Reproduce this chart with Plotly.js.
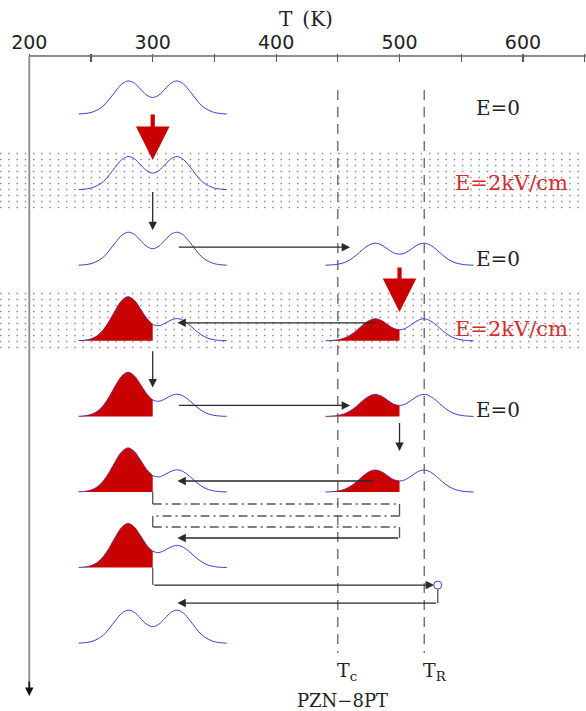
<!DOCTYPE html>
<html><head><meta charset="utf-8">
<script src="https://cdn.plot.ly/plotly-3.0.1.min.js"></script>
<style>html,body{margin:0;padding:0;background:#fff}</style>
</head><body>
<div id="chart" style="width:586px;height:711px"></div>
<script>
// ---------------- data ----------------
const TICK_LABELS = [200, 300, 400, 500, 600];
// temperature grids (K) of the two peaks
const T_LOW  = [240,245,250,255,260,265,270,275,280,285,290,295,300,305,310,315,320,325,330,335,340,345,350,355,360];
const T_HIGH = [440,445,450,455,460,465,470,475,480,485,490,495,500,505,510,515,520,525,530,535,540,545,550,555,560];
// relative intensity profiles
const UNPOLED_LOW  = [0,0.5,1.5,4,8,15,23,30,33,31,25,19,16.5,19,25,31,33,30,23,15,8,4,1.5,0.5,0];
const UNPOLED_HIGH = [0,0.3,1,2.5,5.5,10,15.5,20,22,20.5,16.5,12.5,11,12.5,16.5,20.5,22,20,15.5,10,5.5,2.5,1,0.3,0];
const POLED_LOW    = [0.2,0.6,1.9,5,11,20.2,31.1,40.3,44.1,40.6,32.1,22.7,16.5,15.1,17.5,20.8,22.2,20.2,15.6,10.1,5.5,2.5,1,0.3,0.1];
// characteristic temperatures
const TC = 450, TR = 520;
const T_CUT_LOW = 300, T_CUT_HIGH = 500;      // where the poled (red) part ends
const T_SIDE_LOW = 320, T_SIDE_HIGH = 460, T_PEAK_HIGH = 480, T_RING = 531;
// row contents: which profile on the low / high temperature side
const ROWS = [
  {low:'unpoled'},
  {low:'unpoled'},
  {low:'unpoled', high:'unpoled'},
  {low:'poled', high:'poled'},
  {low:'poled', high:'poled'},
  {low:'poled', high:'poled'},
  {low:'poled'},
  {low:'unpoled'}
];
const FIELD_LABELS = ['E=0', 'E=2kV/cm', 'E=0', 'E=2kV/cm', 'E=0'];

// ---------------- layout geometry ----------------
const W = 586, H = 711, TOP = 54;
const X_MIN = 176.26, X_MAX = 651.1;
const pxT = px => X_MIN + px * (X_MAX - X_MIN) / W;
const ROW0 = 114, ROW_STEP = 75.6;
const base = i => ROW0 + ROW_STEP * i;
const BLUE = 'rgb(60,60,220)', RED = 'rgb(200,0,0)', REDTXT = 'rgb(210,45,45)';

const traces = [];
// dotted field bands
const dx = [], dy = [];
for (const top of [153.5, 293.5]) {
  for (let r = 0; r < 10; r++) {
    for (let c = 0; 0.7 + c * 8.25 < W; c++) { dx.push(pxT(0.7 + c * 8.25)); dy.push(top + r * 6); }
  }
}
traces.push({type:'scatter', mode:'markers', x:dx, y:dy, hoverinfo:'skip',
  marker:{symbol:'square', size:1.5, color:'#8c8c8c', line:{width:0}}, cliponaxis:false});

function addPeak(Ts, prof, b, poled, cut) {
  traces.push({type:'scatter', mode:'lines', x:Ts, y:prof.map(v => b - v), hoverinfo:'skip',
    line:{color:BLUE, width:1, shape:'spline', smoothing:1}});
  if (poled) {
    const xs = [], ys = [];
    Ts.forEach((t, k) => { if (t <= cut) { xs.push(t); ys.push(b - prof[k]); } });
    traces.push({type:'scatter', mode:'lines', x:[xs[0], cut], y:[b, b], hoverinfo:'skip',
      line:{width:0, color:RED}});
    traces.push({type:'scatter', mode:'lines', x:xs, y:ys, fill:'tonexty', fillcolor:RED, hoverinfo:'skip',
      line:{width:0, color:RED, shape:'spline', smoothing:1}});
  }
}
ROWS.forEach((r, i) => {
  const b = base(i);
  if (r.low) addPeak(T_LOW, r.low === 'poled' ? POLED_LOW : UNPOLED_LOW, b, r.low === 'poled', T_CUT_LOW);
  if (r.high) addPeak(T_HIGH, UNPOLED_HIGH, b, r.high === 'poled', T_CUT_HIGH);
});
// small ring at the end of the heating path
traces.push({type:'scatter', mode:'markers', x:[T_RING], y:[base(6) + 17.5], hoverinfo:'skip',
  marker:{symbol:'circle-open', size:8, color:BLUE, line:{width:1, color:BLUE}}});

// ---------------- shapes ----------------
const shapes = [];
// frame: top axis line and left (time) axis
shapes.push({type:'line', xref:'x', yref:'y', x0:200, x1:X_MAX, y0:56, y1:56, line:{color:'#666', width:1.6}, layer:'above'});
shapes.push({type:'line', xref:'x', yref:'y', x0:200, x1:200, y0:56, y1:690, line:{color:'#8a8a8a', width:1.8}, layer:'above'});
// Tc and TR
[TC, TR].forEach(t => shapes.push({type:'line', xref:'x', yref:'y', x0:t, x1:t, y0:90, y1:653,
  line:{color:'#555', width:1.2, dash:'10px,7px'}, layer:'above'}));
// connectors
const CON = '#555';
const solid = (x0, y0, x1, y1) => shapes.push({type:'line', xref:'x', yref:'y', x0, x1, y0, y1, line:{color:CON, width:1.3}, layer:'above'});
const dashdot = (x0, y0, x1, y1) => shapes.push({type:'line', xref:'x', yref:'y', x0, x1, y0, y1, line:{color:CON, width:1.3, dash:'9px,4px,2px,4px'}, layer:'above'});
const b5 = base(5), b6 = base(6);
solid(T_CUT_LOW, b5, T_CUT_LOW, b5 + 12);
dashdot(T_CUT_LOW, b5 + 12, T_CUT_HIGH, b5 + 12);
solid(T_CUT_HIGH, b5 + 12, T_CUT_HIGH, b5 + 24);
dashdot(T_CUT_HIGH, b5 + 24, T_CUT_LOW, b5 + 24);
solid(T_CUT_LOW, b5 + 24, T_CUT_LOW, b5 + 35);
dashdot(T_CUT_LOW, b5 + 35, T_CUT_HIGH, b5 + 35);
solid(T_CUT_HIGH, b5 + 35, T_CUT_HIGH, b5 + 46);
solid(T_CUT_LOW, b6, T_CUT_LOW, b6 + 17.5);
solid(T_RING, b6 + 21.5, T_RING, b6 + 35.5);

// ---------------- annotations ----------------
const ann = [];
const arrow = (x0, y0, x1, y1, o) => ann.push(Object.assign({x:x1, y:y1, ax:x0, ay:y0, xref:'x', yref:'y', axref:'x', ayref:'y',
  text:'', showarrow:true, arrowhead:2, arrowsize:1.3, arrowwidth:1.3, arrowcolor:'#2a2a2a', standoff:0, startstandoff:0}, o || {}));
// red field-on arrows
arrow(T_CUT_LOW, 113, T_CUT_LOW, 160, {arrowcolor:RED, arrowwidth:4.2, arrowsize:1.6});
arrow(T_CUT_HIGH, 266, T_CUT_HIGH, 312, {arrowcolor:RED, arrowwidth:4.2, arrowsize:1.6});
// black process arrows
arrow(T_CUT_LOW, base(1) + 1, T_CUT_LOW, base(2) - 35);
arrow(T_SIDE_LOW, base(2) - 18, T_SIDE_HIGH, base(2) - 18);
arrow(T_PEAK_HIGH + 2, base(3) - 18, T_SIDE_LOW, base(3) - 18);
arrow(T_CUT_LOW, base(3) + 9, T_CUT_LOW, base(4) - 29);
arrow(T_SIDE_LOW, base(4) - 11, T_SIDE_HIGH, base(4) - 11);
arrow(T_CUT_HIGH, base(4) + 5, T_CUT_HIGH, base(5) - 41);
arrow(T_PEAK_HIGH, base(5) - 11, T_SIDE_LOW, base(5) - 11);
arrow(T_CUT_HIGH, b5 + 46, T_SIDE_LOW, b5 + 46);
arrow(T_CUT_LOW, b6 + 17.5, T_RING - 3, b6 + 17.5);
arrow(T_RING, b6 + 35.5, T_SIDE_LOW, b6 + 35.5);
// time axis arrow head
arrow(200, 680, 200, 696, {arrowcolor:'#111', arrowwidth:1.6, arrowsize:1.05});

// texts
const SERIF = 'DejaVu Serif';
ann.push({x:pxT(306), y:(H - 19) / (H - TOP), xref:'x', yref:'paper', text:'T\u2002(K)', showarrow:false,
  xanchor:'center', yanchor:'middle', font:{family:SERIF, size:20, color:'#222'}});
const labelY = [108, 183, 259, 329, 410];
FIELD_LABELS.forEach((t, i) => {
  const red = t !== 'E=0';
  ann.push({x:pxT(red ? 511 : 497.5), y:labelY[i], xref:'x', yref:'y', text:t, showarrow:false,
    xanchor:'center', yanchor:'middle', font:{family:SERIF, size: red ? 21 : 20, color: red ? REDTXT : '#222'}});
});
ann.push({x:TC, y:671, xref:'x', yref:'y', text:'T<sub>c</sub>', showarrow:false, xanchor:'left', yanchor:'middle', xshift:-3,
  font:{family:SERIF, size:19, color:'#222'}});
ann.push({x:TR, y:671, xref:'x', yref:'y', text:'T<sub>R</sub>', showarrow:false, xanchor:'left', yanchor:'middle', xshift:-3,
  font:{family:SERIF, size:19, color:'#222'}});
ann.push({x:pxT(342), y:700, xref:'x', yref:'y', text:'PZN\u22128PT', showarrow:false, xanchor:'center', yanchor:'middle',
  font:{family:SERIF, size:18, color:'#222'}});

const layout = {
  width:W, height:H, margin:{l:0, r:0, t:TOP, b:0, pad:0},
  paper_bgcolor:'#fff', plot_bgcolor:'#fff', showlegend:false,
  xaxis:{range:[X_MIN, X_MAX], side:'top', showgrid:false, zeroline:false, showline:false,
    tickmode:'array', tickvals:TICK_LABELS, ticktext:TICK_LABELS.map(String),
    ticks:'inside', ticklen:8, tickwidth:1.2, tickcolor:'#555',
    minor:{tickmode:'array', tickvals:[250, 350, 450, 550, 650], ticks:'inside', ticklen:8, tickwidth:1.2, tickcolor:'#555'},
    tickfont:{family:'DejaVu Sans', size:19, color:'#222'}, fixedrange:true, automargin:false},
  yaxis:{range:[H, TOP], visible:false, fixedrange:true, showgrid:false, zeroline:false},
  shapes:shapes, annotations:ann
};
Plotly.newPlot('chart', traces, layout, {displayModeBar:false, staticPlot:true});
</script>
</body></html>
